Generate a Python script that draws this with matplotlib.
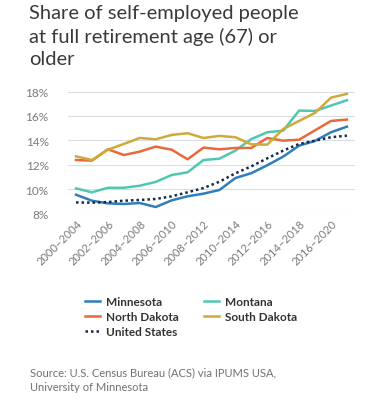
import matplotlib
matplotlib.use("Agg")
import matplotlib.pyplot as plt
from matplotlib.lines import Line2D

plt.rcParams['font.family'] = ['Lato', 'DejaVu Sans']

periods = [f"{y}–{y+4}" for y in range(2000, 2018)]
tick_labels = periods[::2]

minnesota = [9.53, 9.04, 8.82, 8.77, 8.85, 8.52, 9.07, 9.40, 9.62, 9.92, 10.90, 11.30, 11.95, 12.66, 13.56, 13.95, 14.66, 15.12]
montana = [10.05, 9.73, 10.10, 10.10, 10.27, 10.58, 11.15, 11.37, 12.38, 12.49, 13.15, 14.10, 14.66, 14.79, 16.44, 16.41, 16.85, 17.29]
north_dakota = [12.38, 12.33, 13.26, 12.79, 13.07, 13.48, 13.23, 12.44, 13.40, 13.26, 13.37, 13.37, 14.19, 13.97, 14.05, 14.82, 15.59, 15.70]
south_dakota = [12.68, 12.38, 13.23, 13.70, 14.19, 14.08, 14.44, 14.58, 14.19, 14.36, 14.25, 13.67, 13.64, 14.93, 15.59, 16.25, 17.50, 17.81]
united_states = [8.90, 8.88, 8.93, 9.04, 9.10, 9.18, 9.40, 9.73, 10.08, 10.60, 11.29, 11.86, 12.52, 13.15, 13.70, 13.97, 14.25, 14.38]

fig = plt.figure(figsize=(3.72, 4.06), dpi=100)
ax = fig.add_axes([0.183, 0.472, 0.771, 0.300])

x = list(range(len(periods)))
c_mn = '#2f7ebc'
c_mt = '#4fc7b2'
c_nd = '#e8693b'
c_sd = '#cfa93a'
c_us = '#16284a'

ax.plot(x, minnesota, color=c_mn, lw=1.8, zorder=3)
ax.plot(x, montana, color=c_mt, lw=1.8, zorder=3)
ax.plot(x, north_dakota, color=c_nd, lw=1.8, zorder=3)
ax.plot(x, south_dakota, color=c_sd, lw=1.8, zorder=3)
ax.plot(x, united_states, color=c_us, lw=1.8, ls=(0, (1, 1.2)), zorder=4)

ax.set_xlim(-0.5, 17.5)
ax.set_ylim(8, 18)
ax.set_yticks([8, 10, 12, 14, 16, 18])
ax.set_yticklabels(['8%', '10%', '12%', '14%', '16%', '18%'])
ax.set_xticks(x[::2])
ax.set_xticklabels(tick_labels, rotation=45, ha='right', va='top', rotation_mode='anchor')
ax.tick_params(axis='both', length=0, colors='#7a7a7a', labelsize=8)
ax.tick_params(axis='x', pad=3)
ax.tick_params(axis='y', pad=14)
ax.grid(axis='y', color='#d9dee3', lw=0.8)
ax.set_axisbelow(True)
for s in ax.spines.values():
    s.set_visible(False)
for lbl in ax.get_yticklabels():
    lbl.set_fontsize(8.5)

fig.text(0.078, 0.988, "Share of self-employed people\nat full retirement age (67) or\nolder",
         ha='left', va='top', fontsize=14.5, color='#3a3a3a', linespacing=1.38)

handles = [
    Line2D([], [], color=c_mn, lw=1.8),
    Line2D([], [], color=c_nd, lw=1.8),
    Line2D([], [], color=c_us, lw=1.8, ls=(0, (1, 1.2))),
    Line2D([], [], color=c_mt, lw=1.8),
    Line2D([], [], color=c_sd, lw=1.8),
]
labels = ['Minnesota', 'North Dakota', 'United States', 'Montana', 'South Dakota']
leg = fig.legend(handles, labels, ncol=2, loc='upper left', bbox_to_anchor=(0.2, 0.295),
                 frameon=False, handlelength=1.3, handletextpad=0.5, columnspacing=2.1,
                 labelspacing=0.35, prop={'weight': 'bold', 'size': 8.5})
for t in leg.get_texts():
    t.set_color('#333333')

fig.text(0.08, 0.095, "Source: U.S. Census Bureau (ACS) via IPUMS USA,\nUniversity of Minnesota",
         ha='left', va='top', fontsize=8, color='#707070', linespacing=1.4)

fig.savefig('out.png', dpi=100)
